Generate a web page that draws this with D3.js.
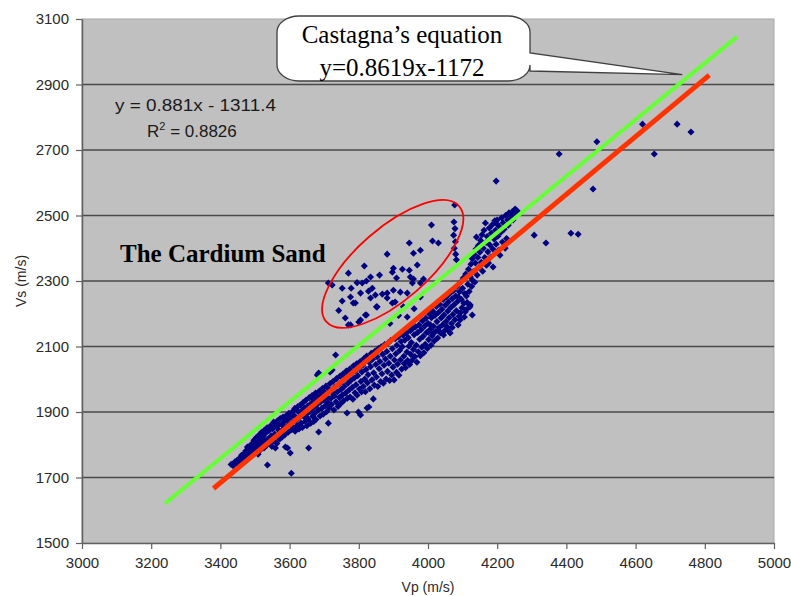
<!DOCTYPE html>
<html>
<head>
<meta charset="utf-8">
<script src="https://cdn.jsdelivr.net/npm/d3@7"></script>
<style>
  html, body { margin: 0; padding: 0; background: #ffffff; }
  svg { display: block; }
</style>
</head>
<body>
<script>
// Axis ticks
const xTicks = [3000, 3200, 3400, 3600, 3800, 4000, 4200, 4400, 4600, 4800, 5000];
const yTicks = [1500, 1700, 1900, 2100, 2300, 2500, 2700, 2900, 3100];

// Trend lines: [slope, intercept] and the Vp range they span
const castagnaCoef = [0.8619, -1172];
const castagnaRange = [3240, 4893];
const fitCoef = [0.881, -1311.4];
const fitRange = [3380, 4813];

// Vp, Vs samples (m/s) along the main trend
const trendPoints = [
  [3431,1740],[3437,1736],[3442,1748],[3447,1743],[3449,1753],
  [3452,1745],[3455,1758],[3459,1750],[3461,1768],[3464,1744],[3467,1762],[3469,1773],
  [3471,1754],[3473,1781],[3476,1766],[3478,1793],[3481,1759],[3483,1776],[3486,1797],[3488,1770],[3489,1786],
  [3491,1803],[3492,1767],[3495,1789],[3497,1814],[3499,1778],[3502,1798],[3504,1822],[3506,1784],[3508,1808],[3509,1771],
  [3511,1829],[3513,1795],[3515,1783],[3517,1815],[3519,1838],[3521,1802],[3524,1826],[3526,1790],[3527,1844],[3529,1812],
  [3531,1836],[3533,1798],[3535,1852],[3536,1738],[3538,1818],[3540,1843],[3543,1806],[3545,1858],[3547,1827],[3549,1795],
  [3551,1849],[3553,1812],[3554,1869],[3557,1833],[3559,1790],[3561,1858],[3563,1804],[3565,1873],[3567,1822],[3568,1845],[3569,1861],
  [3571,1817],[3573,1880],[3575,1838],[3577,1862],[3579,1824],[3581,1885],[3583,1849],[3585,1871],[3587,1831],[3588,1793],[3589,1888],
  [3591,1855],[3593,1876],[3594,1790],[3596,1838],[3598,1896],[3600,1862],[3602,1775],[3603,1884],[3605,1713],[3606,1846],[3608,1901],[3609,1869],
  [3611,1852],[3613,1889],[3615,1911],[3616,1841],[3618,1874],[3620,1906],[3622,1859],[3624,1917],[3626,1882],[3627,1848],[3629,1897],
  [3631,1921],[3633,1866],[3635,1904],[3637,1853],[3639,1929],[3641,1886],[3643,1912],[3645,1871],[3647,1936],[3649,1894],[3650,1858],
  [3652,1918],[3654,1879],[3655,1790],[3657,1944],[3659,1901],[3661,1866],[3663,1927],[3665,1950],[3667,1887],[3668,1912],[3670,1871],
  [3671,1938],[3673,1896],[3675,1958],[3676,1877],[3678,1921],[3680,2013],[3681,1945],[3683,1906],[3684,1839],[3686,1964],[3688,1888],[3689,1930],
  [3684,2019],[3717,2022],[3805,1891],[3824,1912],
  [3691,1952],[3693,1911],[3695,1972],[3697,1893],[3699,1937],[3701,1960],[3703,1919],[3705,1979],[3707,1901],[3709,1946],[3711,1928],[3712,1866],
  [3714,1969],[3715,1912],[3717,1987],[3719,1941],[3721,1923],[3723,2028],[3724,1958],[3726,1994],[3728,1906],[3729,1949],[3731,1977],[3733,2074],
  [3734,1931],[3736,2002],[3738,1961],[3740,1917],[3742,1985],[3744,1944],[3746,2010],[3748,1926],[3749,1969],[3751,1992],
  [3752,1951],[3754,2016],[3756,1934],[3758,1978],[3760,2003],[3762,1958],[3764,2025],[3766,1897],[3767,1942],[3769,1988],[3770,2012],
  [3772,1967],[3774,2031],[3775,1946],[3777,1996],[3779,2019],[3781,1975],[3783,1939],[3785,2041],[3787,2004],[3789,1959],[3790,2026],
  [3792,1983],[3794,2047],[3795,1951],[3797,2011],[3799,1900],[3800,2035],[3802,1970],[3804,2054],[3806,1993],[3808,1961],[3809,2022],
  [3811,2043],[3813,1978],[3815,2063],[3817,2001],[3819,1962],[3821,2030],[3823,2071],[3825,1989],[3827,2014],[3829,1915],[3830,2052],
  [3832,1971],[3834,2038],[3836,2079],[3838,1998],[3840,2061],[3842,1940],[3843,2020],[3845,1982],[3847,2086],[3849,2045],
  [3851,2007],[3853,2069],[3855,1978],[3857,2094],[3859,2032],[3861,2054],[3863,1993],[3865,2099],[3867,2017],[3869,2076],
  [3871,1988],[3873,2043],[3875,2106],[3877,2062],[3879,2001],[3881,2085],[3883,2024],[3885,2111],[3887,2049],[3889,1996],
  [3891,2070],[3893,2119],[3895,2013],[3897,2093],[3899,2037],[3902,1998],[3903,2059],[3905,2124],[3907,2078],[3909,2021],[3910,2104],
  [3890,2170],[3905,2236],[3915,2195],[3929,2221],[3940,2190],[3960,2215],
  [3912,2046],[3914,2130],[3916,2012],[3918,2088],[3920,2059],[3922,2115],[3924,2031],[3926,2099],[3928,2134],[3930,2070],[3931,2048],
  [3933,2119],[3935,2035],[3937,2141],[3939,2083],[3941,2057],[3943,2127],[3945,2101],[3947,2045],[3949,2148],[3950,2076],
  [3952,2112],[3954,2058],[3956,2155],[3958,2091],[3960,2136],[3962,2069],[3964,2160],[3966,2104],[3968,2052],[3970,2143],
  [3972,2084],[3974,2166],[3976,2122],[3978,2072],[3980,2151],[3982,2098],[3984,2178],[3986,2131],[3988,2081],[3990,2162],
  [3992,2107],[3994,2186],[3996,2143],[3998,2094],[4000,2171],[4002,2121],[4004,2199],[4006,2152],[4007,2166],[4009,2104],[4010,2188],
  [4001,2144],[4016,2141],[4030,2150],[4045,2135],[4058,2150],[4070,2158],[4087,2166],[4093,2181],[4105,2190],[4110,2212],[4122,2227],[4128,2196],
  [4012,2133],[4014,2208],[4016,2162],[4018,2117],[4020,2195],[4022,2146],[4024,2222],[4026,2176],[4028,2126],[4030,2204],
  [4032,2158],[4034,2229],[4036,2141],[4038,2187],[4040,2214],[4042,2166],[4044,2244],[4046,2196],[4048,2148],[4050,2226],
  [4052,2176],[4054,2252],[4055,2160],[4057,2208],[4059,2236],[4061,2188],[4063,2262],[4064,2141],[4066,2219],[4068,2170],[4070,2246],
  [4072,2198],[4074,2271],[4076,2228],[4078,2182],[4080,2254],[4082,2209],[4084,2283],[4086,2238],[4088,2251],[4090,2192],[4091,2267],
  [4093,2202],[4094,2296],[4096,2244],[4098,2218],[4100,2278],[4102,2309],[4104,2232],[4106,2262],[4108,2206],[4109,2321],
  [4111,2254],[4113,2234],[4115,2290],[4117,2336],[4119,2268],[4121,2221],[4122,2312],[4124,2351],[4126,2283],[4128,2368],[4129,2302],
  [4131,2329],[4133,2382],[4135,2296],[4137,2355],[4139,2398],[4140,2434],[4142,2318],[4144,2372],[4146,2409],[4148,2341],
  [4150,2388],[4152,2424],[4154,2357],[4156,2441],[4158,2330],[4160,2400],[4162,2455],[4164,2372],[4166,2477],[4168,2418],[4169,2348],
  [4171,2436],[4173,2389],[4175,2355],[4177,2462],[4179,2410],[4181,2373],[4183,2446],[4185,2471],[4187,2398],[4188,2343],
  [4191,2428],[4193,2484],[4195,2455],[4197,2412],[4199,2474],[4200,2486],[4202,2437],[4204,2394],[4206,2466],[4208,2379],
  [4211,2449],[4213,2493],[4215,2419],[4217,2478],[4220,2458],[4223,2400],[4225,2501],[4227,2430],[4228,2416],[4230,2487],
  [4232,2470],[4234,2508],[4237,2482],[4240,2497],[4243,2511],[4246,2486],[4249,2516],[4252,2520],[4255,2502],[4258,2514]
];

// Vp, Vs samples (m/s) of the Cardium Sand group
const cardiumPoints = [
  [4077,2532],[4010,2471],[4013,2422],[4030,2416],[4075,2480],[4078,2460],[4074,2440],[4079,2420],
  [4076,2400],[4080,2382],[4082,2365],[3946,2416],[3958,2385],[3978,2394],[3969,2349],[3946,2333],
  [3882,2382],[3816,2346],[3770,2324],[3900,2339],[3897,2327],[3909,2309],[3860,2318],[3834,2312],
  [3822,2300],[3810,2294],[3723,2288],[3712,2294],[3752,2278],[3778,2278],[3805,2263],[3839,2278],
  [3848,2257],[3868,2260],[3834,2248],[3776,2251],[3752,2239],[3790,2233],[3882,2248],[3897,2233],
  [3851,2221],[3822,2196],[3761,2187],[3776,2166],[3805,2181],[3958,2306],[3987,2306],[3978,2294],
  [3926,2336],[3955,2294],[3920,2266],[3940,2263],[3978,2251],[3784,2233],[3819,2196],[3853,2221],
  [3800,2175],[3770,2166],[3742,2210],[3795,2295],[3949,2312],[3828,2269],[3882,2263],[3900,2272]
];

// Vp, Vs samples (m/s) at the high-velocity end
const highPoints = [
  [4197,2605],[4379,2688],[4488,2725],[4477,2581],[4620,2779],[4654,2688],
  [4720,2779],[4760,2755],[4307,2440],[4341,2416],[4413,2446],[4434,2443]
];

const W = 791, H = 596;
const margin = { left: 82, right: 17, top: 19, bottom: 53 };

const svg = d3.select("body").append("svg").attr("width", W).attr("height", H);

const x = d3.scaleLinear().domain([3000, 5000]).range([margin.left, W - margin.right]);
const y = d3.scaleLinear().domain([1500, 3100]).range([H - margin.bottom, margin.top]);

// plot area
svg.append("rect")
  .attr("x", x(3000)).attr("y", y(3100))
  .attr("width", x(5000) - x(3000)).attr("height", y(1500) - y(3100))
  .attr("fill", "#c0c0c0")
  .attr("stroke", "#a8a8a8").attr("stroke-width", 1);

// horizontal gridlines
svg.append("g").selectAll("line")
  .data(yTicks.filter(v => v > 1500 && v < 3100))
  .join("line")
  .attr("x1", x(3000)).attr("x2", x(5000))
  .attr("y1", d => y(d)).attr("y2", d => y(d))
  .attr("stroke", "#4a4a4a").attr("stroke-width", 1.5);

const fontSans = "'Liberation Sans', Arial, sans-serif";
const fontSerif = "'Liberation Serif', 'Times New Roman', serif";

// axes
const yAxis = svg.append("g")
  .attr("transform", `translate(${x(3000)},0)`)
  .call(d3.axisLeft(y).tickValues(yTicks).tickFormat(d3.format("d"))
    .tickSize(6).tickPadding(7).tickSizeOuter(0));
const xAxis = svg.append("g")
  .attr("transform", `translate(0,${y(1500)})`)
  .call(d3.axisBottom(x).tickValues(xTicks).tickFormat(d3.format("d"))
    .tickSize(6).tickPadding(8).tickSizeOuter(0));

[xAxis, yAxis].forEach(g => {
  g.select(".domain").attr("stroke", "#606060").attr("stroke-width", 1.5);
  g.selectAll(".tick line").attr("stroke", "#606060").attr("stroke-width", 1.2);
  g.selectAll(".tick text")
    .attr("fill", "#2a2a2a")
    .style("font-family", fontSans)
    .style("font-size", "15px");
});

// axis titles
svg.append("text")
  .attr("x", x(4000)).attr("y", 592)
  .attr("text-anchor", "middle")
  .style("font-family", fontSans).style("font-size", "14px").attr("fill", "#2a2a2a")
  .text("Vp (m/s)");
svg.append("text")
  .attr("transform", `translate(26,${y(2300)}) rotate(-90)`)
  .attr("text-anchor", "middle")
  .style("font-family", fontSans).style("font-size", "14px").attr("fill", "#2a2a2a")
  .text("Vs (m/s)");

// scatter points (diamonds)
const diamond = d3.symbol(d3.symbolSquare, 25)();
svg.append("g").selectAll("path")
  .data(trendPoints.concat(cardiumPoints, highPoints))
  .join("path")
  .attr("d", diamond)
  .attr("transform", d => `translate(${x(d[0])},${y(d[1])}) rotate(45)`)
  .attr("fill", "#000080");

// trend lines
const lineGen = d3.line().x(d => x(d[0])).y(d => y(d[1]));
function lineData(coef, range) {
  return range.map(v => [v, coef[0] * v + coef[1]]);
}
svg.append("path")
  .attr("d", lineGen(lineData(castagnaCoef, castagnaRange)))
  .attr("stroke", "#66ff33").attr("stroke-width", 4).attr("fill", "none");
svg.append("path")
  .attr("d", lineGen(lineData(fitCoef, fitRange)))
  .attr("stroke", "#ff3300").attr("stroke-width", 5).attr("fill", "none");

// ellipse round the Cardium Sand group
svg.append("ellipse")
  .attr("cx", 0).attr("cy", 0).attr("rx", 88).attr("ry", 36)
  .attr("transform", `translate(${x(3898)},${y(2352)}) rotate(-41)`)
  .attr("fill", "none").attr("stroke", "#ff0000").attr("stroke-width", 1.8);

// regression label
svg.append("text")
  .attr("x", 115).attr("y", 111)
  .style("font-family", fontSans).style("font-size", "17px").attr("fill", "#1a1a1a")
  .attr("textLength", 161).attr("lengthAdjust", "spacingAndGlyphs")
  .text("y = 0.881x - 1311.4");
const r2 = svg.append("text")
  .attr("x", 147).attr("y", 137)
  .style("font-family", fontSans).style("font-size", "17px").attr("fill", "#1a1a1a");
r2.append("tspan").text("R");
r2.append("tspan").attr("dy", -7).style("font-size", "11px").text("2");
r2.append("tspan").attr("dy", 7).text(" = 0.8826");

// group label
svg.append("text")
  .attr("x", 120).attr("y", 262)
  .style("font-family", fontSerif).style("font-size", "25px").style("font-weight", "bold")
  .attr("fill", "#000")
  .text("The Cardium Sand");

// callout for Castagna's equation
const bx0 = 277, bx1 = 530, by0 = 16, by1 = 81, rx = 22, ry = 16;
const tip = [x(4735), y(2930)];
const callout = [
  `M${bx0 + rx},${by0}`,
  `H${bx1 - rx}`,
  `A${rx},${ry} 0 0 1 ${bx1},${by0 + ry}`,
  `V53`,
  `L${tip[0]},${tip[1]}`,
  `L${bx1},71`,
  `V${by1 - ry}`,
  `A${rx},${ry} 0 0 1 ${bx1 - rx},${by1}`,
  `H${bx0 + rx}`,
  `A${rx},${ry} 0 0 1 ${bx0},${by1 - ry}`,
  `V${by0 + ry}`,
  `A${rx},${ry} 0 0 1 ${bx0 + rx},${by0}`,
  "Z"
].join(" ");
svg.append("path")
  .attr("d", callout)
  .attr("fill", "#ffffff").attr("stroke", "#404040").attr("stroke-width", 1.3);
svg.append("text")
  .attr("x", 402).attr("y", 43)
  .attr("text-anchor", "middle")
  .style("font-family", fontSerif).style("font-size", "25px").attr("fill", "#000")
  .text("Castagna\u2019s equation");
svg.append("text")
  .attr("x", 402).attr("y", 76)
  .attr("text-anchor", "middle")
  .style("font-family", fontSerif).style("font-size", "25px").attr("fill", "#000")
  .text("y=0.8619x-1172");
</script>
</body>
</html>
